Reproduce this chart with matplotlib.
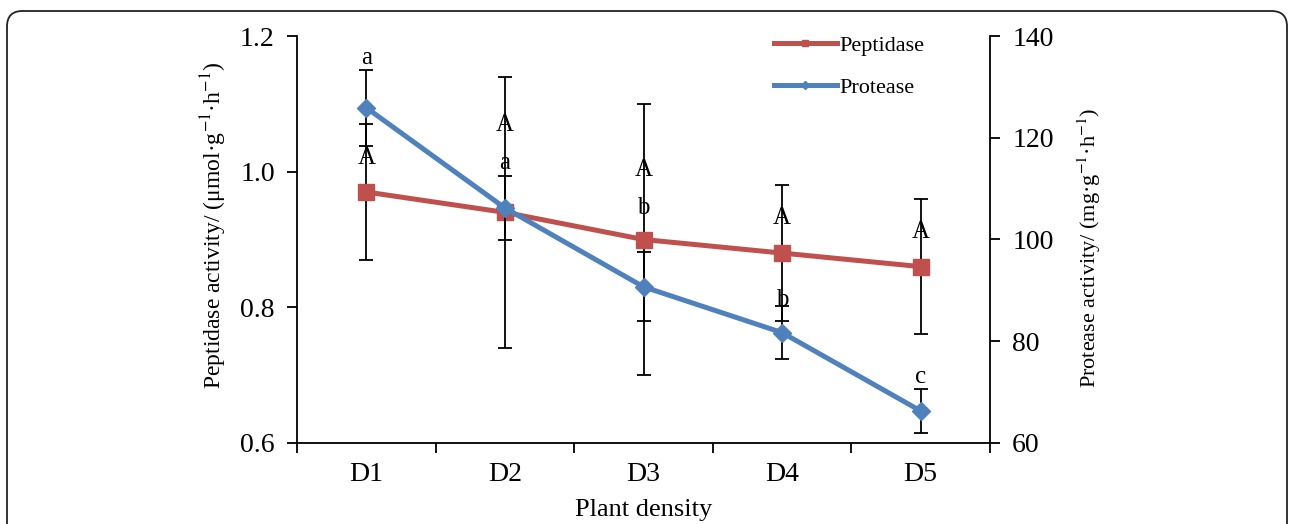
import matplotlib.pyplot as plt
from matplotlib.patches import FancyBboxPatch
import numpy as np

plt.rcParams['font.family'] = ['Liberation Serif', 'DejaVu Serif']
plt.rcParams['mathtext.fontset'] = 'stix'

densities = ["D1", "D2", "D3", "D4", "D5"]
peptidase = [0.97, 0.94, 0.90, 0.88, 0.86]
peptidase_err = [0.10, 0.20, 0.20, 0.10, 0.10]
protease = [125.9, 106.2, 90.7, 81.7, 66.3]
protease_err = [7.5, 6.3, 6.8, 5.2, 4.4]

# significance letters, heights on the peptidase axis
pep_letters = ["A", "A", "A", "A", "A"]
pep_letter_y = [1.020, 1.069, 1.002, 0.932, 0.911]
pro_letters = ["a", "a", "b", "b", "c"]
pro_letter_y = [1.168, 1.013, 0.946, 0.811, 0.697]

red = "#C0504D"
blue = "#4F81BD"

fig = plt.figure(figsize=(12.92, 5.24), dpi=100)
ax = fig.add_axes([297/1292, 1-443/524, (990-297)/1292, (443-36)/524])
ax2 = ax.twinx()

x = np.arange(len(densities))

ax.errorbar(x, peptidase, yerr=peptidase_err, fmt='none', ecolor='black',
            elinewidth=1.3, capsize=5, capthick=1.3, zorder=2)
l1, = ax.plot(x, peptidase, color=red, lw=3.6, marker='s', ms=11,
              label="Peptidase", zorder=3)

ax2.errorbar(x, protease, yerr=protease_err, fmt='none', ecolor='black',
             elinewidth=1.3, capsize=5, capthick=1.3, zorder=2)
l2, = ax2.plot(x, protease, color=blue, lw=3.6, marker='D', ms=9,
               label="Protease", zorder=3)

for i in range(len(densities)):
    ax.text(x[i], pep_letter_y[i], pep_letters[i], ha='center', va='center',
            fontsize=18, zorder=5)
    ax.text(x[i], pro_letter_y[i], pro_letters[i], ha='center', va='center',
            fontsize=18, zorder=5)

ax.set_xlim(-0.5, 4.5)
ax.set_ylim(0.6, 1.2)
ax.set_yticks([0.6, 0.8, 1.0, 1.2])
ax.set_yticklabels(["0.6", "0.8", "1.0", "1.2"])
ax2.set_ylim(60, 140)
ax2.set_yticks([60, 80, 100, 120, 140])

ax.set_xticks(np.arange(-0.5, 5, 1))
ax.set_xticklabels([])
ax.set_xticks(x, minor=True)
ax.set_xticklabels(densities, minor=True)
ax.tick_params(axis='x', which='minor', length=0, pad=14, labelsize=20)
ax.tick_params(axis='x', which='major', length=7, width=1.3, direction='out')
ax.tick_params(axis='y', length=7, width=1.3, direction='out', labelsize=20, pad=9)
ax2.tick_params(axis='y', length=7, width=1.3, direction='out', labelsize=20, pad=9)

for a in (ax, ax2):
    a.spines['top'].set_visible(False)
    for s in ('left', 'right', 'bottom'):
        a.spines[s].set_linewidth(1.3)
ax.spines['right'].set_visible(False)
ax2.spines['left'].set_visible(False)
ax2.spines['bottom'].set_visible(False)

ax.set_xlabel("Plant density", fontsize=19, labelpad=8)
ax.set_ylabel(r"Peptidase activity/ (μmol·g$^{\mathrm{-1}}$·h$^{\mathrm{-1}}$)", fontsize=17, labelpad=8)
ax2.set_ylabel(r"Protease activity/ (mg·g$^{\mathrm{-1}}$·h$^{\mathrm{-1}}$)", fontsize=16, labelpad=16)
ax.yaxis.label.set_y(0.535)
ax2.yaxis.label.set_y(0.48)

leg = ax2.legend(handles=[l1, l2], loc='upper left', bbox_to_anchor=(0.66, 1.05),
                 frameon=False, fontsize=16, markerscale=0.45, handlelength=2.8,
                 handletextpad=0.12, labelspacing=0.95)

frame = FancyBboxPatch((7/1292, -0.05), (1287-7)/1292, 1-11/524+0.05,
                       boxstyle="round,pad=0,rounding_size=0.012",
                       transform=fig.transFigure, fill=False, ec='#222222',
                       lw=1.3, mutation_aspect=1292/524)
fig.patches.append(frame)

fig.savefig("out.png", dpi=100)
